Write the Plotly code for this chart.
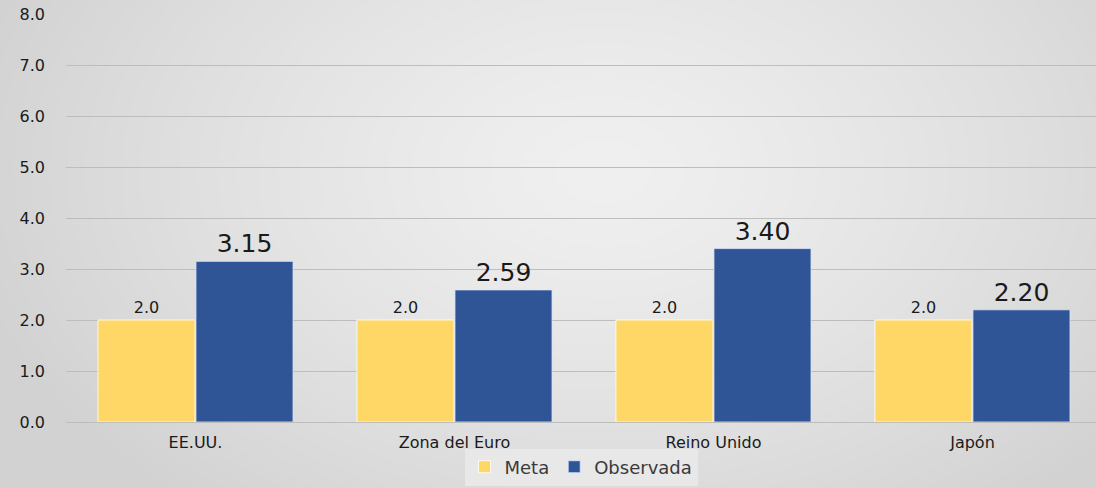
import base64, struct, zlib
import numpy as np
import plotly.graph_objects as go

categories = ["EE.UU.", "Zona del Euro", "Reino Unido", "Japón"]
meta = [2.0, 2.0, 2.0, 2.0]
observada = [3.15, 2.59, 3.40, 2.20]
meta_labels = ["2.0", "2.0", "2.0", "2.0"]
obs_labels = ["3.15", "2.59", "3.40", "2.20"]
y_ticks = [0, 1, 2, 3, 4, 5, 6, 7, 8]
y_ticktext = ["0.0", "1.0", "2.0", "3.0", "4.0", "5.0", "6.0", "7.0", "8.0"]

W, H = 1096, 488
ML, MR, MT, MB = 66, 0, 14, 66
FONT = "DejaVu Sans, Liberation Sans, Arial"

# radial gradient background image (style only)
def gradient_png(w, h):
    yy, xx = np.mgrid[0:h, 0:w].astype(float)
    cx, cy = w * 0.55, h * 0.35
    d = np.sqrt(((xx - cx) / (w * 0.6)) ** 2 + ((yy - cy) / (h * 0.9)) ** 2)
    d = np.clip(d, 0, 1)
    v = 240 - 30 * d ** 1.3
    img = np.clip(v, 0, 255).astype(np.uint8)
    rgb = np.stack([img, img, img], axis=2)
    raw = b"".join(b"\x00" + rgb[r].tobytes() for r in range(h))
    def chunk(t, data):
        c = struct.pack(">I", len(data)) + t + data
        return c + struct.pack(">I", zlib.crc32(t + data) & 0xffffffff)
    png = b"\x89PNG\r\n\x1a\n" + chunk(b"IHDR", struct.pack(">IIBBBBB", w, h, 8, 2, 0, 0, 0)) \
        + chunk(b"IDAT", zlib.compress(raw, 9)) + chunk(b"IEND", b"")
    return "data:image/png;base64," + base64.b64encode(png).decode()

pw = W - ML - MR
ph = H - MT - MB

fig = go.Figure()
fig.add_trace(go.Bar(
    x=categories, y=meta, name="Meta", text=meta_labels, textposition="outside",
    textfont=dict(size=16, color="#1a1a1a", family=FONT),
    marker=dict(color="#FED766", line=dict(color="rgba(255,255,255,0.8)", width=1)),
    cliponaxis=False,
))
fig.add_trace(go.Bar(
    x=categories, y=observada, name="Observada", text=obs_labels, textposition="outside",
    textfont=dict(size=25, color="#1a1a1a", family=FONT),
    marker=dict(color="#2F5597", line=dict(color="rgba(220,230,250,0.8)", width=1)),
    cliponaxis=False,
))

fig.update_layout(
    width=W, height=H,
    margin=dict(l=ML, r=MR, t=MT, b=MB, pad=0),
    paper_bgcolor="#e2e2e2", plot_bgcolor="rgba(0,0,0,0)",
    barmode="group", bargap=0.243, bargroupgap=0.01,
    font=dict(family=FONT, size=16, color="#1a1a1a"),
    showlegend=True,
    legend=dict(orientation="h", x=0.5, xanchor="center", y=-0.065, yanchor="top",
                bgcolor="#e8e8e8", font=dict(size=18, color="#3a3a3a", family=FONT),
                itemwidth=30, traceorder="normal"),
    xaxis=dict(range=[-0.5, 3.477], showgrid=False, showline=False, ticks="",
               tickfont=dict(size=16, color="#1a1a1a", family=FONT), ticklabelstandoff=9),
    yaxis=dict(range=[0, 8], tickvals=y_ticks, ticktext=y_ticktext,
               showgrid=True, gridcolor="#bdbdbd", gridwidth=1.3, zeroline=True,
               zerolinecolor="#bdbdbd", zerolinewidth=1.3, showline=False,
               tickfont=dict(size=16, color="#1a1a1a", family=FONT), ticklabelstandoff=20),
    images=[dict(source=gradient_png(W, H), xref="paper", yref="paper",
                 x=-ML / pw, y=1 + MT / ph, sizex=W / pw, sizey=H / ph,
                 xanchor="left", yanchor="top", sizing="stretch", layer="below")],
)

fig.write_html("out.html", config={"displayModeBar": False},
               post_script="document.body.style.margin='0';document.body.style.overflow='hidden';")
